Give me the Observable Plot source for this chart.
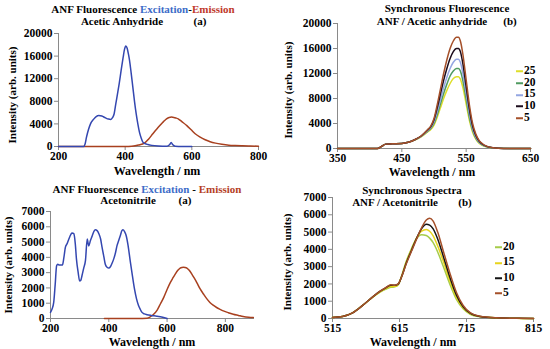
<!DOCTYPE html>
<html>
<head>
<meta charset="utf-8">
<script src="https://cdn.jsdelivr.net/npm/d3@7"></script>
<script src="https://cdn.jsdelivr.net/npm/@observablehq/plot@0.6"></script>
<style>
  html, body { margin: 0; padding: 0; background: #fff; }
  #root { position: relative; width: 550px; height: 349px; overflow: hidden; background: #fff;
          font-family: "Times New Roman", "Liberation Serif", Tinos, "Noto Serif", "DejaVu Serif", serif; font-weight: bold; color: #000; }
  #root svg, #root svg text { font-family: "Times New Roman", "Liberation Serif", Tinos, "Noto Serif", "DejaVu Serif", serif !important; font-weight: bold; }
  .panel { position: absolute; }
  .t { position: absolute; transform: translate(-50%, -50%); white-space: nowrap; font-size: 11px; line-height: 1; }
  .yl { position: absolute; transform: translate(-50%, -50%) rotate(-90deg); white-space: nowrap; font-size: 11px; line-height: 1; }
  .xl { position: absolute; transform: translate(-50%, -50%); white-space: nowrap; font-size: 12px; line-height: 1; }
  .lg { position: absolute; font-size: 11.5px; line-height: 1; white-space: nowrap; transform: translateY(-50%); }
  .lg span.sw { display: inline-block; width: 7px; height: 0; border-top: 2px solid; vertical-align: middle; margin-right: 1px; }
</style>
</head>
<body>
<div id="root"></div>
<script>
// ---------- Panel (a) top: ANF in acetic anhydride ----------
const W1ex = [200,275,280,284,290,296,305,313,321,330,340,350,357,362,367,372,377,382,388,394,398,402,406,410,413,418,423,428,433,438,443,448,453,460,468,480,500,525,533,538,543,550,570,600];
const ex1  = [0,0,500,1650,3000,4000,4800,5300,5500,5400,5100,4850,4800,5100,5800,7600,9300,11100,13500,15800,17200,17800,17400,16300,15300,13000,10500,8000,5800,4000,2500,1500,770,500,350,200,80,30,300,700,300,50,0,0];
const W1em = [200,300,400,420,440,458,470,483,495,504,515,524,532,539,546,552,559,570,585,598,610,625,640,655,671,690,711,730,752,775,800];
const em1  = [0,0,0,50,250,600,1300,2250,3100,3700,4400,4900,5150,5200,5150,5050,4900,4400,3700,2950,2250,1650,1200,850,600,400,240,170,120,80,60];
const xTicks1 = [200,400,600,800];
const yTicks1 = [0,4000,8000,12000,16000,20000];

// ---------- Panel (b) top: synchronous, acetic anhydride ----------
const W2 = [350,400,412,418,425,435,450,460,470,480,490,495,500,505,510,515,520,525,530,535,538,541,545,550,555,560,565,570,575,580,590,600,620,650];
const s2_5  = [0,0,0,300,700,750,800,1000,1400,2000,3000,3600,4800,7000,9500,12000,14200,16000,17200,17800,17800,17200,15000,11000,7000,4000,2300,1300,800,450,150,50,10,0];
const s2_10 = [0,0,0,300,700,750,800,1000,1400,2000,2950,3500,4600,6500,8700,10900,12800,14400,15500,16000,16000,15500,13500,9900,6300,3600,2100,1200,720,420,140,50,10,0];
const s2_15 = [0,0,0,300,700,750,800,1000,1400,1950,2850,3350,4300,5900,7800,9700,11400,12800,13800,14300,14300,13800,12000,8800,5600,3200,1850,1050,650,380,130,45,10,0];
const s2_20 = [0,0,0,300,700,750,800,1000,1380,1920,2750,3200,4000,5400,7100,8800,10300,11600,12400,12800,12800,12400,10800,7900,5000,2900,1650,950,580,340,120,40,10,0];
const s2_25 = [0,0,0,300,700,750,800,990,1350,1880,2650,3050,3750,5000,6500,8000,9300,10400,11200,11500,11500,11100,9700,7100,4500,2600,1500,850,520,310,110,40,10,0];
const names2 = ["25","20","15","10","5"];
const xTicks2 = [350,450,550,650];
const yTicks2 = [0,4000,8000,12000,16000,20000];

// ---------- Panel (a) bottom: ANF in acetonitrile ----------
const W3ex = [200,205,211,216,221,225,230,234,241,246,251,257,263,270,274,280,285,289,295,300,304,308,314,320,326,331,337,343,349,354,360,366,372,377,383,388,394,400,406,412,417,423,428,434,440,445,449,455,460,466,474,481,488,495,502,508,514,522,531,545,565,585,600];
const ex3  = [400,600,1050,2200,3450,3550,3500,3500,3500,4000,4650,4900,5200,5500,5600,5550,4900,3900,3000,2450,2500,2800,3300,3800,5200,4750,5100,5400,5700,5800,5750,5550,5200,4650,4050,3550,3350,3300,3400,3650,3900,4300,4750,5100,5450,5750,5800,5650,5400,4800,3700,2800,1950,1300,850,600,400,300,250,200,150,80,0];
const W3em = [385,450,500,531,543,554,566,577,589,600,611,620,628,637,645,651,656,662,668,676,685,693,702,713,725,736,747,758,770,782,793,810,827,845,861,880,896];
const em3  = [0,0,0,20,120,280,550,950,1400,1900,2350,2650,2900,3150,3300,3340,3350,3340,3300,3150,2900,2650,2350,1950,1600,1300,1050,870,720,600,500,380,280,200,130,80,60];
const xTicks3 = [200,400,600,800];
const yTicks3 = [0,1000,2000,3000,4000,5000,6000,7000];

// ---------- Panel (b) bottom: synchronous, acetonitrile ----------
const W4 = [515,530,545,560,575,585,595,602,608,613,618,625,633,640,648,655,660,665,672,680,690,700,710,720,735,760,790,815];
const s4_5  = [60,120,330,760,1250,1550,1800,1950,1930,2000,2400,3150,3900,4550,5250,5700,5800,5650,5000,3950,2650,1500,750,350,130,40,10,0];
const s4_10 = [60,120,330,760,1250,1550,1790,1930,1920,1990,2400,3200,3950,4600,5200,5450,5400,5200,4600,3650,2400,1350,680,320,120,40,10,0];
const s4_15 = [60,120,330,760,1240,1520,1740,1850,1860,1960,2420,3250,4000,4620,5050,5150,5050,4800,4200,3350,2200,1220,620,290,110,35,10,0];
const s4_20 = [60,120,330,760,1230,1500,1700,1800,1830,1950,2450,3300,4050,4600,4850,4800,4650,4400,3850,3050,2000,1100,560,260,100,35,10,0];
const names4 = ["20","15","10","5"];
const xTicks4 = [515,615,715,815];
const yTicks4 = [0,1000,2000,3000,4000,5000,6000,7000];

// ---------- colours ----------
const cEx = "#3447b0", cEm = "#a8401f";
const colors2 = {"25":"#dede2a","20":"#4f9a60","15":"#94a6e2","10":"#1c0c1c","5":"#a5502a"};
const colors4 = {"20":"#a6cc4a","15":"#e8d41c","10":"#141414","5":"#a5502a"};

const FONT = '"Times New Roman", "Liberation Serif", Tinos, "Noto Serif", "DejaVu Serif", serif';
const root = document.getElementById("root");
const fmt = d3.format("d");
const toPts = (xs, ys) => xs.map((x, i) => ({x, y: ys[i]}));

function frame(xd, yd, xt, yt, m, extra) {
  return Plot.plot({
    width: 275, height: m.h,
    marginLeft: m.l, marginRight: m.r, marginTop: m.t, marginBottom: m.b,
    x: {domain: xd}, y: {domain: yd},
    style: {fontFamily: FONT, fontSize: "11.5px", fontWeight: "bold", background: "transparent", color: "#000"},
    marks: [
      Plot.axisY({ticks: yt, tickSize: 4, tickPadding: 2, tickFormat: fmt, label: null, stroke: "#8a8a8a"}),
      Plot.axisX({ticks: xt, tickSize: 4, tickPadding: 1, tickFormat: fmt, label: null, stroke: "#8a8a8a"}),
      Plot.ruleX([xd[0]], {stroke: "#8a8a8a"}),
      Plot.ruleY([yd[0]], {stroke: "#8a8a8a"}),
      ...extra
    ]
  });
}
function place(el, left, top) {
  const d = document.createElement("div");
  d.className = "panel"; d.style.left = left + "px"; d.style.top = top + "px";
  d.appendChild(el); root.appendChild(d);
}
function txt(cls, html, x, y) {
  const d = document.createElement("div");
  d.className = cls; d.innerHTML = html;
  d.style.left = x + "px"; d.style.top = y + "px";
  root.appendChild(d);
}

// Panel 1
place(frame([200,800],[0,20000],xTicks1,yTicks1,{h:175,l:58,r:17,t:33,b:29},[
  Plot.line(toPts(W1em, em1), {x:"x", y:"y", stroke:cEm, strokeWidth:1.5, curve:"monotone-x"}),
  Plot.line(toPts(W1ex, ex1), {x:"x", y:"y", stroke:cEx, strokeWidth:1.5, curve:"monotone-x"})
]), 0, 0);
txt("t", 'ANF Fluorescence <span style="color:#3d6cc8">Excitation</span>-<span style="color:#c0392b">Emission</span>', 143, 9);
txt("t", 'Acetic Anhydride', 122, 21);
txt("t", '(a)', 200, 21);
txt("yl", 'Intensity (arb. units)', 12, 95);
txt("xl", 'Wavelength / nm', 157, 171);

// Panel 2
const seriesList2 = [s2_25, s2_20, s2_15, s2_10, s2_5];
place(frame([350,650],[0,20000],xTicks2,yTicks2,{h:175,l:62,r:20,t:23,b:27},
  names2.map((n, k) => Plot.line(toPts(W2, seriesList2[k]), {x:"x", y:"y", stroke: colors2[n], strokeWidth:1.5, curve:"monotone-x"}))
), 275, 0);
txt("t", 'Synchronous Fluorescence', 447, 8);
txt("t", 'ANF / Acetic anhydride', 432, 21);
txt("t", '(b)', 510, 21);
txt("yl", 'Intensity (arb. units)', 288, 90);
txt("xl", 'Wavelength / nm', 432, 172);
names2.forEach((n, k) => txt("lg", `<span class="sw" style="border-color:${colors2[n]}"></span>${n}`, 516, 71 + k * 11.7));

// Panel 3
place(frame([200,900],[0,7000],xTicks3,yTicks3,{h:174,l:50,r:21,t:36,b:31},[
  Plot.line(toPts(W3em, em3), {x:"x", y:"y", stroke:cEm, strokeWidth:1.5, curve:"monotone-x"}),
  Plot.line(toPts(W3ex, ex3), {x:"x", y:"y", stroke:cEx, strokeWidth:1.5, curve:"monotone-x"})
]), 0, 175);
txt("t", 'ANF Fluorescence <span style="color:#3d6cc8">Excitation</span> - <span style="color:#b5401f">Emission</span>', 147, 189);
txt("t", 'Acetonitrile', 128, 200);
txt("t", '(a)', 185, 200);
txt("yl", 'Intensity (arb. units)', 8, 265);
txt("xl", 'Wavelength / nm', 152, 342);

// Panel 4
const seriesList4 = [s4_20, s4_15, s4_10, s4_5];
place(frame([515,815],[0,7000],xTicks4,yTicks4,{h:174,l:57,r:17,t:22,b:31},
  names4.map((n, k) => Plot.line(toPts(W4, seriesList4[k]), {x:"x", y:"y", stroke: colors4[n], strokeWidth:1.5, curve:"monotone-x"}))
), 275, 175);
txt("t", 'Synchronous Spectra', 412, 190);
txt("t", 'ANF / Acetonitrile', 395, 202);
txt("t", '(b)', 465, 202);
txt("yl", 'Intensity (arb. units)', 287, 262);
txt("xl", 'Wavelength / nm', 413, 342);
names4.forEach((n, k) => txt("lg", `<span class="sw" style="border-color:${colors4[n]}"></span>${n}`, 495, 247 + k * 15.3));
</script>
</body>
</html>
